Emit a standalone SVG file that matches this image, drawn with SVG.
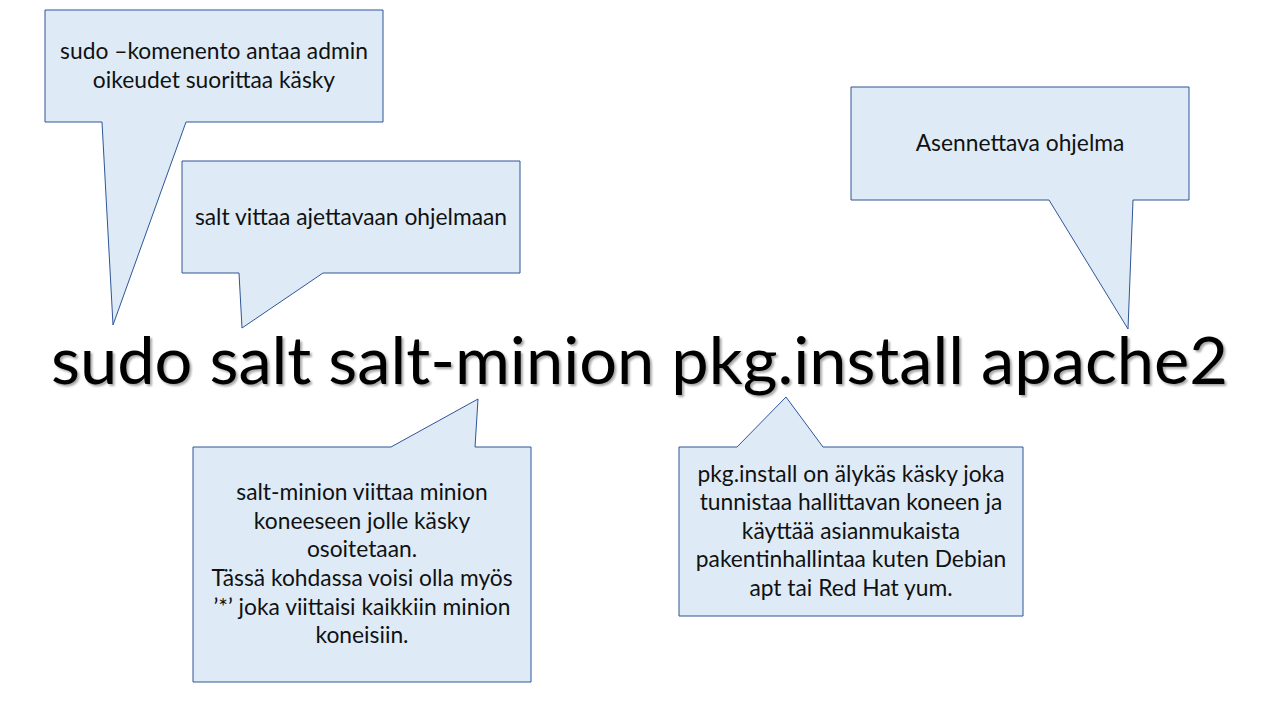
<svg xmlns="http://www.w3.org/2000/svg" width="1280" height="720" viewBox="0 0 1280 720">
  <style>
    .bubble { fill: #DEEBF7; stroke: #2F5597; stroke-width: 1; stroke-linejoin: miter; }
    .note { font-family: Lato, "Open Sans", "Liberation Sans", sans-serif; font-size: 22.8px; fill: #111111; text-anchor: middle; }
    .cmd { font-family: Lato, "Open Sans", "Liberation Sans", sans-serif; font-size: 66px; fill: #000000; }
  </style>
  <defs>
    <filter id="textShadow" x="-5%" y="-20%" width="110%" height="150%">
      <feDropShadow dx="2" dy="2" stdDeviation="1.2" flood-color="#000000" flood-opacity="0.35"/>
    </filter>
  </defs>
  <rect width="1280" height="720" fill="#FFFFFF"/>

  <!-- callout: sudo -->
  <g id="callout-sudo">
    <path class="bubble" d="M45,10 H383 V122 H186 L113,325 L102,122 H45 Z"/>
    <text class="note" x="214" y="59">sudo –komenento antaa admin</text>
    <text class="note" x="214" y="88">oikeudet suorittaa käsky</text>
  </g>

  <!-- callout: salt -->
  <g id="callout-salt">
    <path class="bubble" d="M182,161 H520 V273 H323 L242,328 L239,273 H182 Z"/>
    <text class="note" x="351" y="225">salt vittaa ajettavaan ohjelmaan</text>
  </g>

  <!-- callout: package name -->
  <g id="callout-apache">
    <path class="bubble" d="M851,87 H1189 V200 H1133 L1128,329 L1049,200 H851 Z"/>
    <text class="note" x="1020" y="151">Asennettava ohjelma</text>
  </g>

  <!-- callout: target minion -->
  <g id="callout-minion">
    <path class="bubble" d="M193,447 H391 L478,399 L475,447 H531 V682 H193 Z"/>
    <text class="note" x="362" y="500">salt-minion viittaa minion</text>
    <text class="note" x="362" y="529">koneeseen jolle käsky</text>
    <text class="note" x="362" y="557">osoitetaan.</text>
    <text class="note" x="362" y="586">Tässä kohdassa voisi olla myös</text>
    <text class="note" x="362" y="615">’*’ joka viittaisi kaikkiin minion</text>
    <text class="note" x="362" y="643">koneisiin.</text>
  </g>

  <!-- callout: pkg.install -->
  <g id="callout-pkg">
    <path class="bubble" d="M679,447 H737 L786,397 L823,447 H1023 V616 H679 Z"/>
    <text class="note" x="851" y="482">pkg.install on älykäs käsky joka</text>
    <text class="note" x="851" y="510">tunnistaa hallittavan koneen ja</text>
    <text class="note" x="851" y="539">käyttää asianmukaista</text>
    <text class="note" x="851" y="567">pakentinhallintaa kuten Debian</text>
    <text class="note" x="851" y="596">apt tai Red Hat yum.</text>
  </g>

  <!-- command line -->
  <g id="command">
    <text class="cmd" x="51" y="384" textLength="1177" lengthAdjust="spacingAndGlyphs" filter="url(#textShadow)">sudo salt salt-minion pkg.install apache2</text>
  </g>

  <g id="connectors"></g>
</svg>
